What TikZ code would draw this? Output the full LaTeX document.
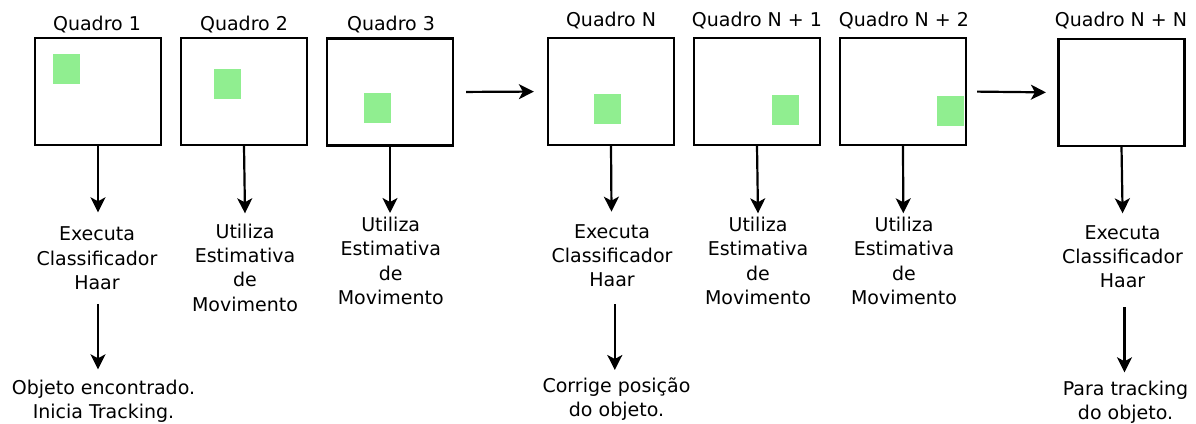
\documentclass[tikz,border=0pt]{standalone}
\usepackage{fontspec}
\setmainfont{DejaVu Sans}
\usetikzlibrary{arrows.meta}
\definecolor{lightgreen}{HTML}{90EE90}
\begin{document}
\begin{tikzpicture}[x=1pt,y=-1pt,
  frame/.style={draw=black,line width=2.2pt,minimum width=126pt,minimum height=107pt,inner sep=0pt},
  obj/.style={fill=lightgreen,minimum width=27pt,minimum height=30pt,inner sep=0pt},
  lbl/.style={font=\fontsize{19}{24.3}\selectfont,inner sep=0pt,anchor=base,align=center},
  arr/.style={line width=2.2pt,-{Stealth[length=15pt,width=15pt,inset=4pt]}}]
\useasboundingbox (0,0) rectangle (1196,423);
% frames
\node[frame] (b1) at (98,91.5) {};
\node[frame] (b2) at (244,91.5) {};
\node[frame] (b3) at (390,92) {};
\node[frame] (bN) at (611,91.5) {};
\node[frame] (bN1) at (757,91.5) {};
\node[frame] (bN2) at (903,91.5) {};
\node[frame] (bNN) at (1121.5,92.5) {};
% objects
\node[obj] (g1) at (66.5,69) {};
\node[obj] (g2) at (227.5,83.5) {};
\node[obj] (g3) at (377,108) {};
\node[obj] (gN) at (607.5,108.5) {};
\node[obj] (gN1) at (785.5,109.5) {};
\node[obj] (gN2) at (950,111) {};
% titles
\node[lbl] (q1) at (97,30) {Quadro 1};
\node[lbl] (q2) at (244,30) {Quadro 2};
\node[lbl] (q3) at (391,30) {Quadro 3};
\node[lbl] (qN) at (611,27) {Quadro N};
\node[lbl] (qN1) at (757,27) {Quadro N + 1};
\node[lbl] (qN2) at (904,27) {Quadro N + 2};
\node[lbl] (qNN) at (1121,27) {Quadro N + N};
% actions (anchor at baseline of the last line)
\node[lbl] (t1) at (97,289.3) {Executa\\Classificador\\Haar};
\node[lbl] (t2) at (245,311) {Utiliza\\Estimativa\\de\\Movimento};
\node[lbl] (t3) at (390.7,304.3) {Utiliza\\Estimativa\\de\\Movimento};
\node[lbl] (tN) at (612,286.7) {Executa\\Classificador\\Haar};
\node[lbl] (tN1) at (758,304.3) {Utiliza\\Estimativa\\de\\Movimento};
\node[lbl] (tN2) at (904,304.3) {Utiliza\\Estimativa\\de\\Movimento};
\node[lbl] (tNN) at (1122.5,287.7) {Executa\\Classificador\\Haar};
% results
\node[lbl] (o1) at (103.5,418.3) {Objeto encontrado.\\Inicia Tracking.};
\node[lbl] (oN) at (616.5,416.7) {Corrige posição\\do objeto.};
\node[lbl] (oNN) at (1125.5,419.3) {Para tracking\\do objeto.};
% arrow tips
\coordinate (e1) at (98,212.3);
\coordinate (e2) at (245,213.3);
\coordinate (e3) at (390,213);
\coordinate (eN) at (611.5,211.7);
\coordinate (eN1) at (758,213.3);
\coordinate (eN2) at (903.3,213.3);
\coordinate (eNN) at (1122.6,213.3);
\coordinate (f1) at (98,369.3);
\coordinate (fN) at (614.8,370);
\coordinate (fNN) at (1124.5,372.3);
% connectors
\draw[arr] (b1.south) -- (e1);
\draw[arr] (b2.south) -- (e2);
\draw[arr] (b3.south) -- (e3);
\draw[arr] (bN.south) -- (eN);
\draw[arr] (bN1.south) -- (eN1);
\draw[arr] (bN2.south) -- (eN2);
\draw[arr] (bNN.south) -- (eNN);
\draw[arr,shorten <=14pt] (t1.south -| f1) -- (f1);
\draw[arr,shorten <=17.3pt] (tN.south -| fN) -- (fN);
\draw[arr,shorten <=19pt] (tNN.south -| fNN) -- (fNN);
\draw[arr,shorten <=12pt,shorten >=13pt] (b3.east) -- (bN.west);
\draw[arr,shorten <=10pt,shorten >=11.5pt] (bN2.east) -- (bNN.west);
\end{tikzpicture}
\end{document}
